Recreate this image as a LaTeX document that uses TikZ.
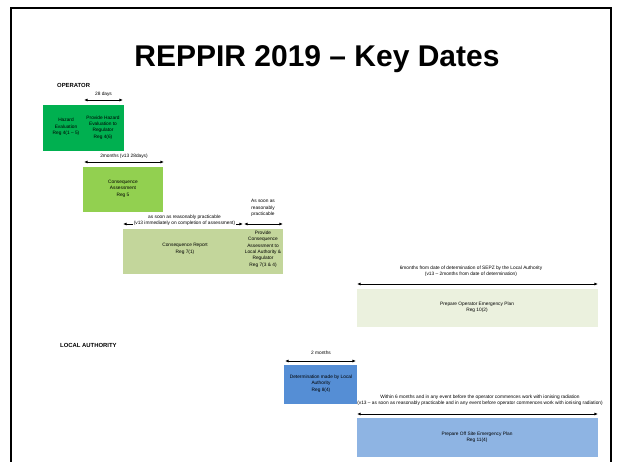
\documentclass[tikz,border=0pt]{standalone}
\usepackage{fontspec}
\setmainfont{Liberation Sans}
\usetikzlibrary{arrows.meta}
\definecolor{hzc}{HTML}{00B050}
\definecolor{cac}{HTML}{92D050}
\definecolor{crc}{HTML}{C3D69B}
\definecolor{opc}{HTML}{EBF1DE}
\definecolor{dtc}{HTML}{558ED5}
\definecolor{osc}{HTML}{8EB4E3}
\begin{document}
\begin{tikzpicture}[x=1pt,y=-1pt,
  bx/.style={draw=none,inner sep=0pt,anchor=north west},
  txt/.style={font=\fontsize{4.8}{6.4}\selectfont,inner sep=0pt,align=center},
  hdr/.style={font=\fontsize{5.9}{6.5}\selectfont\bfseries,inner sep=0pt,anchor=west},
  dim/.style={line width=0.75pt,{Latex[length=3.6pt,width=3pt]}-{Latex[length=3.6pt,width=3pt]}}]
\useasboundingbox (0,0) rectangle (622,462);
\clip (0,0) rectangle (622,462);
\fill[white] (0,0) rectangle (622,462);
\draw[line width=2pt] (11,470) -- (11,8) -- (611,8) -- (611,470);
\node[font=\fontsize{30}{36}\selectfont\bfseries,anchor=base,inner sep=0pt] (title) at (317,67) {REPPIR 2019 – Key Dates};

\node[hdr] (op) at (57,85) {OPERATOR};
\node[hdr] (la) at (60,345) {LOCAL AUTHORITY};

% boxes
\node[bx,fill=hzc,minimum width=81pt,minimum height=46pt] (hz) at (43,105) {};
\node[bx,fill=cac,minimum width=80pt,minimum height=45pt] (ca) at (83,167) {};
\node[bx,fill=crc,minimum width=160pt,minimum height=45pt] (cr) at (123,229) {};
\node[bx,fill=opc,minimum width=241pt,minimum height=38pt] (opl) at (357,289) {};
\node[bx,fill=dtc,minimum width=73pt,minimum height=39pt] (dt) at (284,365) {};
\node[bx,fill=osc,minimum width=241pt,minimum height=39pt] (os) at (357,418) {};

% box texts
\node[txt] (t1) at (66,127) {Hazard\\Evaluation\\Reg 4(1 – 5)};
\node[txt] (t2) at (103,127.5) {Provide Hazard\\Evaluation to\\Regulator\\Reg 4(6)};
\node[txt] (t3) at (123,188.5) {Consequence\\Assessment\\Reg 5};
\node[txt] (t4) at (185,249) {Consequence Report\\Reg 7(1)};
\node[txt] (t5) at (263,249) {Provide\\Consequence\\Assessment to\\Local Authority \&\\Regulator\\Reg 7(3 \& 4)};
\node[txt] (t6) at (477,307.5) {Prepare Operator Emergency Plan\\Reg 10(2)};
\node[txt] (t7) at (321,383.5) {Determination made by Local\\Authority\\Reg 8(4)};
\node[txt] (t8) at (477,437) {Prepare Off Site Emergency Plan\\Reg 11(4)};

% dimension arrows
\coordinate (a1) at (84,100); \coordinate (b1) at (123,100);
\draw[dim] (a1) -- (b1);
\node[txt] (l1) at (103.5,94) {28 days};

\coordinate (a2) at (84,162); \coordinate (b2) at (164,162);
\draw[dim] (a2) -- (b2);
\node[txt] (l2) at (124,156) {2months (v13 28days)};

\coordinate (a3) at (123,224); \coordinate (b3) at (243,224);
\draw[dim] (a3) -- (b3);
\node[txt,fill=white,inner sep=0.6pt] (l3) at (184.5,220.5) {as soon as reasonably practicable\\(v13 immediately on completion of assessment)};

\coordinate (a4) at (244,224); \coordinate (b4) at (283,224);
\draw[dim] (a4) -- (b4);
\node[txt] (l4) at (263,208) {As soon as\\reasonably\\practicable};

\coordinate (a5) at (357,284); \coordinate (b5) at (598,284);
\draw[dim] (a5) -- (b5);
\node[txt] (l5) at (471,271.5) {6months from date of determination of SEPZ by the Local Authority\\(v13 – 2months from date of determination)};

\coordinate (a6) at (285,361); \coordinate (b6) at (356,361);
\draw[dim] (a6) -- (b6);
\node[txt] (l6) at (321,353) {2 months};

\coordinate (a7) at (357,414); \coordinate (b7) at (598,414);
\draw[dim] (a7) -- (b7);
\node[txt] (l7) at (480,400.5) {Within 6 months and in any event before the operator commences work with ionising radiation\\(v13 – as soon as reasonably practicable and in any event before operator commences work with ionising radiation)};
\end{tikzpicture}
\end{document}
